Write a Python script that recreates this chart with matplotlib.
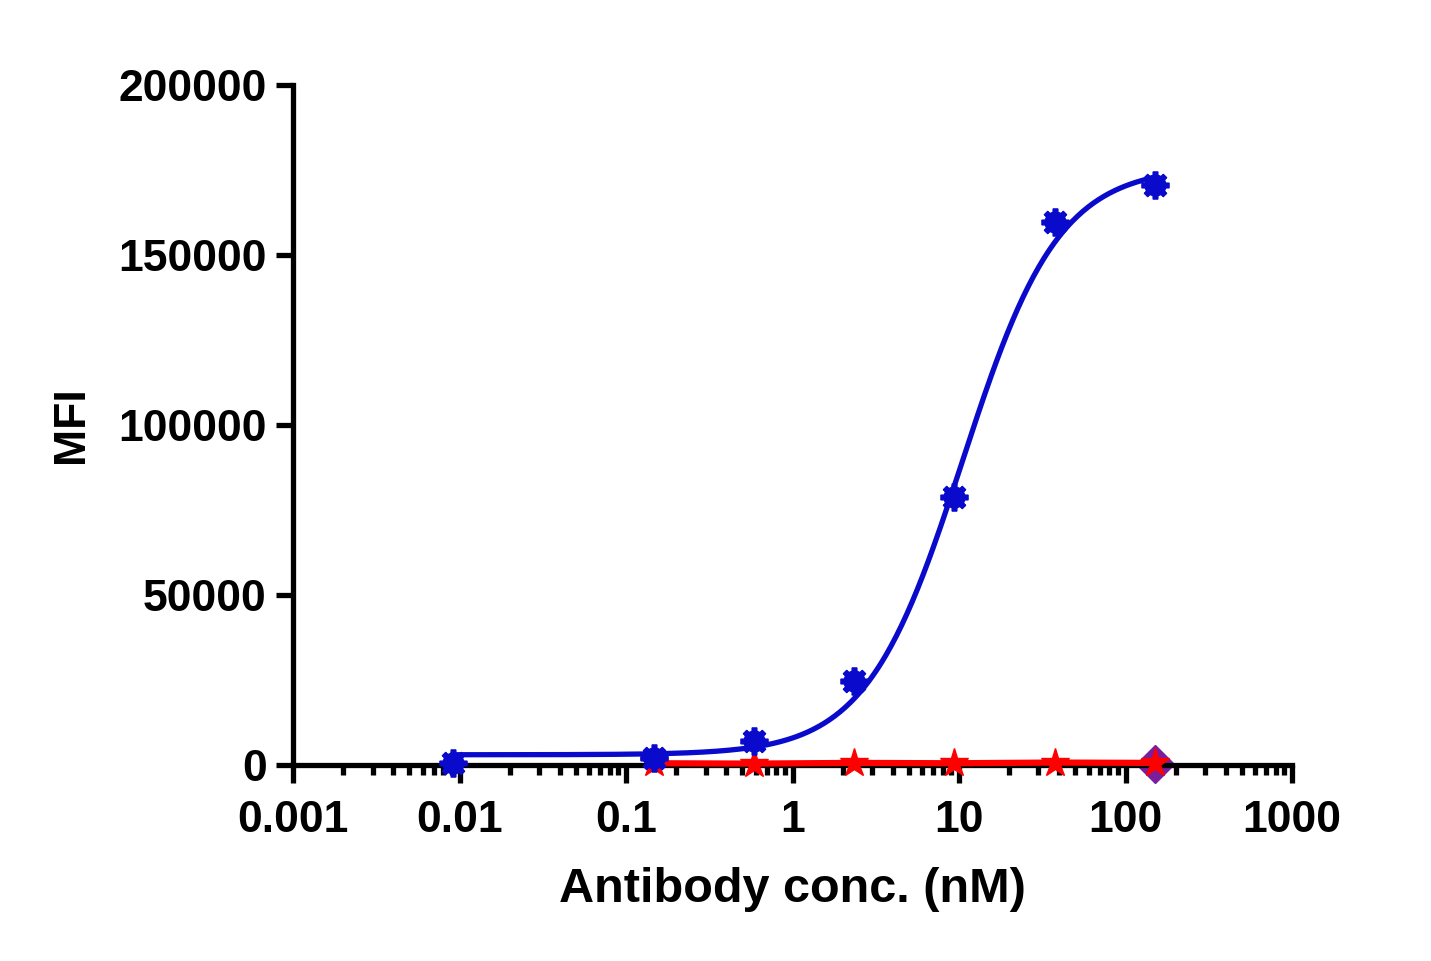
import numpy as np
import matplotlib
matplotlib.use("Agg")
import matplotlib.pyplot as plt
from matplotlib.ticker import LogLocator, FixedLocator, NullFormatter, FuncFormatter

plt.rcParams["font.family"] = ["Liberation Sans", "DejaVu Sans"]
plt.rcParams["font.weight"] = "bold"

# antibody concentrations (nM), 4-fold dilution series
conc_blue = [0.00916, 0.1465, 0.586, 2.344, 9.375, 37.5, 150]
mfi_blue = [500, 2000, 7000, 24700, 78800, 159700, 170600]

conc_red = [0.1465, 0.586, 2.344, 9.375, 37.5, 150]
mfi_red = [500, 400, 600, 500, 700, 600]

conc_purple = [150]
mfi_purple = [300]

# four-parameter logistic fit of the blue series
fit_bottom = 3000
fit_top = 176000
fit_ec50 = 10.5
fit_hill = 1.5

x_ticks = [0.001, 0.01, 0.1, 1, 10, 100, 1000]
x_tick_labels = ["0.001", "0.01", "0.1", "1", "10", "100", "1000"]
y_ticks = [0, 50000, 100000, 150000, 200000]

BLUE = "#0A0ACC"
RED = "#FF0000"
PURPLE = "#7A1E9E"

fig = plt.figure(figsize=(14.31, 9.61), dpi=100)
ax = fig.add_axes([0.2048, 0.204, 0.6981, 0.7076])

# fitted curve
xs = np.logspace(np.log10(conc_blue[0]), np.log10(conc_blue[-1]), 400)
ys = fit_bottom + (fit_top - fit_bottom) / (1 + (fit_ec50 / xs) ** fit_hill)
ax.plot(xs, ys, color=BLUE, lw=3.8, zorder=5, clip_on=False)

# red series (flat fit)
ax.plot(conc_red, mfi_red, color=RED, lw=4.5, zorder=3, clip_on=False)

# purple diamond
ax.plot(conc_purple, mfi_purple, ls="none", marker="D", ms=19, color=PURPLE,
        mec=PURPLE, zorder=2, clip_on=False)

# red stars
ax.plot(conc_red, mfi_red, ls="none", marker="*", ms=21, color=RED,
        mec=RED, zorder=4, clip_on=False)

# blue burst markers
ax.plot(conc_blue, mfi_blue, ls="none", marker="o", ms=15, color=BLUE,
        mec=BLUE, zorder=6, clip_on=False)
ax.plot(conc_blue, mfi_blue, ls="none", marker=(8, 2, 0), ms=20, mew=4,
        color=BLUE, mec=BLUE, zorder=6, clip_on=False)

ax.set_xscale("log")
ax.set_xlim(0.001, 1000)
ax.set_ylim(0, 200000)

ax.xaxis.set_major_locator(FixedLocator(x_ticks))
ax.xaxis.set_major_formatter(FuncFormatter(lambda v, p: x_tick_labels[x_ticks.index(v)] if v in x_ticks else ""))
ax.xaxis.set_minor_locator(LogLocator(base=10, subs=np.arange(2, 10), numticks=20))
ax.xaxis.set_minor_formatter(NullFormatter())
ax.yaxis.set_major_locator(FixedLocator(y_ticks))
ax.yaxis.set_major_formatter(FuncFormatter(lambda v, p: f"{int(v)}"))

for side in ["top", "right"]:
    ax.spines[side].set_visible(False)
for side in ["left", "bottom"]:
    ax.spines[side].set_linewidth(3.8)
    ax.spines[side].set_color("black")

ax.tick_params(axis="x", which="major", length=13, width=3.8, pad=12,
               labelsize=32, direction="out")
ax.tick_params(axis="x", which="minor", length=7, width=3.8, direction="out")
ax.tick_params(axis="y", which="major", length=12, width=3.8, pad=7,
               labelsize=32, direction="out")
for lab in ax.get_xticklabels() + ax.get_yticklabels():
    lab.set_fontweight("bold")

ax.set_xlabel("Antibody conc. (nM)", fontsize=35, fontweight="bold", labelpad=19)
ax.set_ylabel("MFI", fontsize=32, fontweight="bold", labelpad=19)

fig.savefig("out.png", dpi=100)
